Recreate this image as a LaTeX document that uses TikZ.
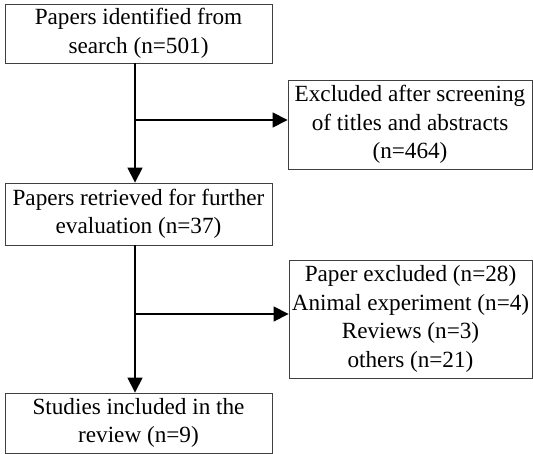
\documentclass[tikz,border=0pt]{standalone}
\usepackage{fontspec}
\setmainfont{Liberation Serif}
\usetikzlibrary{arrows.meta}
\begin{document}
\begin{tikzpicture}[x=1pt,y=-1pt,
  box/.style={draw=black!75, line width=0.8pt, align=center, inner sep=0pt,
    font=\fontsize{23.2}{28.5}\selectfont},
  arr/.style={line width=1.2pt, -{Triangle[length=15pt,width=15pt]}}]
\useasboundingbox (0,0) rectangle (533,454);
\node[box, minimum width=267pt, minimum height=59pt] (b1) at (138.5,33.5) {Papers identified from\\search (n=501)};
\node[box, minimum width=244pt, minimum height=89pt] (b2) at (410,124.5) {Excluded after screening\\of titles and abstracts\\(n=464)};
\node[box, minimum width=267pt, minimum height=62pt] (b3) at (138.5,214) {Papers retrieved for further\\evaluation (n=37)};
\node[box, minimum width=243pt, minimum height=118pt] (b4) at (410.5,319) {Paper excluded (n=28)\\Animal experiment (n=4)\\Reviews (n=3)\\others (n=21)};
\node[box, minimum width=267pt, minimum height=60pt] (b5) at (138.5,423) {Studies included in the\\review (n=9)};
\coordinate (v1) at (135,120);
\coordinate (v2) at (135,314);
\draw[arr] (b1.south -| v1) -- (b3.north -| v1);
\draw[arr] (v1) -- (v1 -| b2.west);
\draw[arr] (b3.south -| v2) -- (b5.north -| v2);
\draw[arr] (v2) -- (v2 -| b4.west);
\end{tikzpicture}
\end{document}
